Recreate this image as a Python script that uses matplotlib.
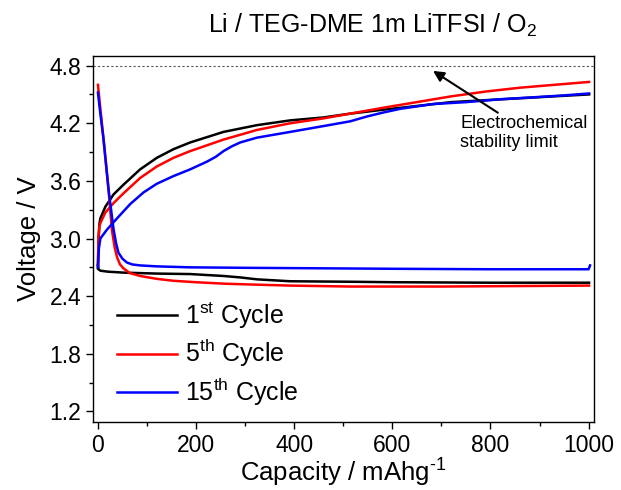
import matplotlib
matplotlib.use("Agg")
import matplotlib.pyplot as plt
from matplotlib.ticker import MultipleLocator

plt.rcParams['font.family'] = ['Liberation Sans', 'DejaVu Sans']
plt.rcParams['mathtext.fontset'] = 'custom'
plt.rcParams['mathtext.rm'] = 'Liberation Sans'
plt.rcParams['mathtext.it'] = 'Liberation Sans:italic'

# charge curves (capacity mAh/g, voltage V)
c1_charge_x = [0, 1, 3, 5, 15, 32, 52, 86, 120, 154, 188, 256, 324, 392, 459, 514, 580, 650, 720, 790, 860, 930, 1001]
c1_charge_y = [2.69, 2.95, 3.15, 3.21, 3.33, 3.46, 3.56, 3.72, 3.84, 3.93, 4.00, 4.11, 4.18, 4.23, 4.26, 4.30, 4.34, 4.38, 4.42, 4.44, 4.46, 4.48, 4.50]

c5_charge_x = [0, 1, 3, 5, 15, 32, 52, 86, 120, 154, 188, 256, 324, 392, 459, 514, 580, 650, 720, 790, 860, 930, 1001]
c5_charge_y = [2.72, 3.02, 3.13, 3.16, 3.27, 3.37, 3.47, 3.63, 3.75, 3.84, 3.91, 4.03, 4.13, 4.20, 4.25, 4.30, 4.36, 4.42, 4.48, 4.53, 4.57, 4.60, 4.63]

c15_charge_x = [0, 2, 5, 18, 39, 66, 93, 120, 154, 188, 222, 240, 256, 273, 290, 324, 392, 459, 514, 548, 580, 616, 683, 751, 820, 887, 950, 1001]
c15_charge_y = [2.70, 2.90, 3.00, 3.09, 3.21, 3.36, 3.48, 3.57, 3.65, 3.72, 3.80, 3.85, 3.91, 3.96, 4.00, 4.05, 4.11, 4.17, 4.22, 4.27, 4.31, 4.35, 4.40, 4.42, 4.45, 4.47, 4.49, 4.51]

# discharge curves
c1_dis_x = [0, 1, 5, 20, 52, 120, 188, 256, 290, 324, 392, 514, 600, 800, 1001]
c1_dis_y = [2.72, 2.68, 2.665, 2.655, 2.645, 2.635, 2.63, 2.61, 2.595, 2.575, 2.555, 2.55, 2.545, 2.54, 2.54]

c5_dis_x = [0, 4, 11.5, 21.6, 28.5, 34, 38.7, 45, 52, 65, 86, 120, 154, 200, 256, 320, 392, 514, 700, 850, 1001]
c5_dis_y = [4.60, 4.40, 4.03, 3.51, 3.09, 2.91, 2.81, 2.73, 2.69, 2.64, 2.61, 2.58, 2.56, 2.545, 2.53, 2.52, 2.51, 2.50, 2.50, 2.505, 2.51]

c15_dis_x = [0, 4, 11.5, 21.6, 32, 37, 42, 50, 59, 70, 86, 120, 188, 300, 452, 600, 800, 1000, 1003]
c15_dis_y = [4.52, 4.34, 4.03, 3.51, 3.09, 2.95, 2.85, 2.79, 2.75, 2.73, 2.72, 2.71, 2.70, 2.695, 2.69, 2.685, 2.68, 2.68, 2.72]

stability_limit = 4.8

fig = plt.figure(figsize=(6.21, 4.90), dpi=100)
ax = fig.add_axes([0.1498, 0.1388, 0.8067, 0.7469])

lw = 1.8
ax.plot(c1_charge_x, c1_charge_y, color='black', lw=lw, label=r'1$^{\mathrm{st}}$ Cycle')
ax.plot(c1_dis_x, c1_dis_y, color='black', lw=lw)
ax.plot(c5_charge_x, c5_charge_y, color='#ff0000', lw=lw, label=r'5$^{\mathrm{th}}$ Cycle')
ax.plot(c5_dis_x, c5_dis_y, color='#ff0000', lw=lw)
ax.plot(c15_charge_x, c15_charge_y, color='#0000ff', lw=lw, label=r'15$^{\mathrm{th}}$ Cycle')
ax.plot(c15_dis_x, c15_dis_y, color='#0000ff', lw=lw)

ax.axhline(stability_limit, color='#555555', lw=0.8, linestyle=(0, (2, 2)))

ax.annotate('', xy=(683, 4.745), xytext=(815, 4.31),
            arrowprops=dict(arrowstyle='-|>', color='black', lw=1.5,
                            mutation_scale=16, shrinkA=0, shrinkB=0))
ax.text(738, 4.29, 'Electrochemical\nstability limit', fontsize=13,
        ha='left', va='top', linespacing=1.15)

ax.set_xlim(-10, 1011)
ax.set_ylim(1.09, 4.9)
ax.xaxis.set_major_locator(MultipleLocator(200))
ax.xaxis.set_minor_locator(MultipleLocator(100))
ax.set_yticks([1.2, 1.8, 2.4, 3.0, 3.6, 4.2, 4.8])
ax.set_yticks([1.5, 2.1, 2.7, 3.3, 3.9, 4.5], minor=True)
ax.tick_params(which='major', direction='out', length=5, width=1, labelsize=16.5)
ax.tick_params(which='minor', direction='out', length=3, width=1)
for s in ax.spines.values():
    s.set_linewidth(1.0)

ax.set_xlabel(r'Capacity / mAhg$^{\text{-1}}$', fontsize=18.5, labelpad=0)
ax.set_ylabel('Voltage / V', fontsize=18.5, labelpad=6)

fig.text(373 / 621, 1 - 33 / 490, r'Li / TEG-DME 1m LiTFSI / O$_2$',
         fontsize=18, ha='center', va='baseline')

ax.legend(loc='upper left', bbox_to_anchor=(0.028, 0.36), frameon=False,
          fontsize=18, handlelength=2.4, handletextpad=0.3, labelspacing=0.25,
          borderaxespad=0)

fig.savefig('out.png', dpi=100)
